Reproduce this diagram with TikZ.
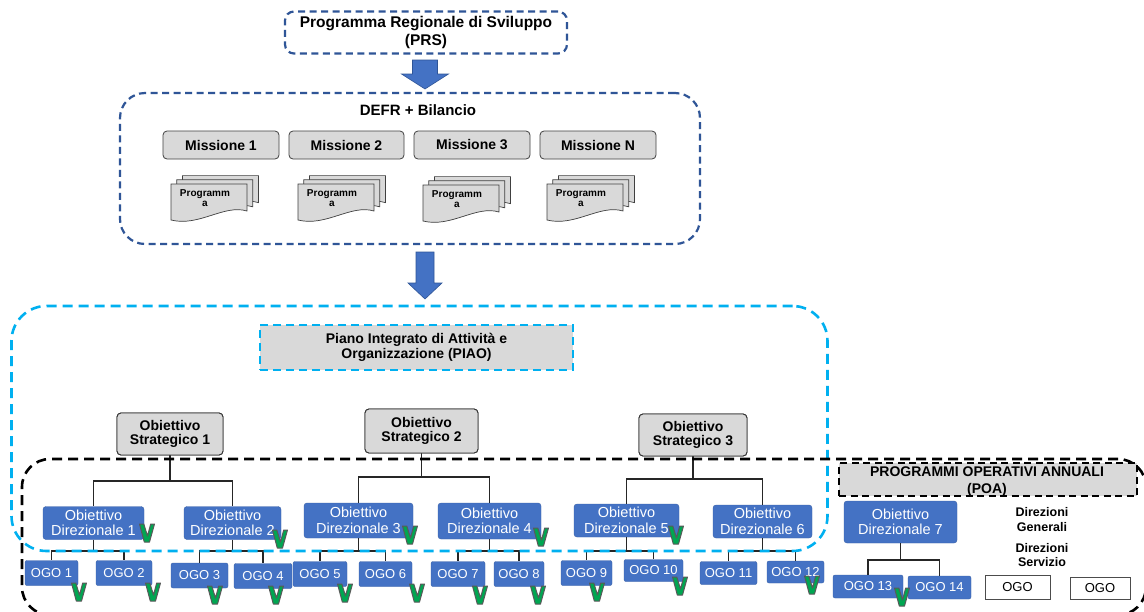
\documentclass[tikz,border=0pt]{standalone}
\usepackage{fontspec}
\setmainfont{Liberation Sans}
\usetikzlibrary{calc}
\definecolor{dblue}{HTML}{2F5597}
\definecolor{cyanb}{HTML}{00B0F0}
\definecolor{boxblue}{HTML}{4472C4}
\definecolor{lgray}{HTML}{D9D9D9}
\definecolor{vgreen}{HTML}{00A651}
\newcommand\blockarr[5]{\filldraw[fill=boxblue, draw=dblue, line width=0.6pt]
  ($(#1)+(-#3,0)$) -- ($(#1)+(#3,0)$) -- ($(#2)+(#3,-#5)$) -- ($(#2)+(#4,-#5)$) --
  (#2) -- ($(#2)+(-#4,-#5)$) -- ($(#2)+(-#3,-#5)$) -- cycle;}
\tikzset{
 prsbox/.style={draw=dblue, line width=2.2pt, dash pattern=on 7pt off 4.5pt, rounded corners=9pt,
   minimum width=282pt, minimum height=42pt, align=center, inner sep=0pt,
   font=\fontsize{15.5}{18}\selectfont\bfseries},
 defrframe/.style={draw=dblue, line width=2.2pt, dash pattern=on 7pt off 4.5pt, rounded corners=25pt, inner sep=0pt},
 titletxt/.style={font=\fontsize{15}{18}\selectfont\bfseries, inner sep=0pt},
 missbox/.style={draw=black!75, fill=lgray, rounded corners=4pt, line width=0.8pt,
   minimum width=116pt, minimum height=28pt, inner sep=0pt, font=\fontsize{14}{16}\selectfont\bfseries},
 docstack/.pic={
   \foreach \dx/\dy in {11.4/-8.4, 5.7/-4.2, 0/0}{
     \filldraw[fill=lgray, draw=black!75, line width=0.7pt, shift={(\dx,\dy)}]
       (-38,-18) -- (38,-18) -- (38,9) .. controls (15,2) and (-10,25) .. (-38,18) -- cycle;}
   \node[font=\fontsize{10}{10.5}\selectfont\bfseries, align=center, inner sep=0pt] (-t) at (-4,-4) {Programm\\a};
 },
 piaoframe/.style={draw=cyanb, line width=2.6pt, dash pattern=on 10pt off 6pt, rounded corners=35pt, inner sep=0pt},
 piaobox/.style={draw=cyanb, fill=lgray, line width=2.2pt, dash pattern=on 8pt off 5pt,
   minimum width=313pt, minimum height=45pt, align=center, inner sep=0pt,
   font=\fontsize{14}{15.5}\selectfont\bfseries},
 osbox/.style={draw=black!80, fill=lgray, rounded corners=4pt, line width=0.9pt, align=center,
   inner sep=0pt, font=\fontsize{14}{14.5}\selectfont\bfseries},
 poaframe/.style={draw=black, line width=2.6pt, dash pattern=on 10pt off 6pt, rounded corners=28pt, inner sep=0pt},
 poabox/.style={draw=black, fill=lgray, line width=1.6pt, dash pattern=on 7pt off 4.5pt,
   minimum width=298pt, minimum height=33pt, inner sep=0pt},
 poatxt/.style={font=\fontsize{14}{17}\selectfont\bfseries, align=center, inner sep=0pt},
 odbox/.style={fill=boxblue, draw=boxblue!85!black, line width=0.4pt, rounded corners=3pt, text=white,
   align=center, inner sep=0pt, font=\fontsize{14.5}{15.5}\selectfont},
 ogobox/.style={fill=boxblue, draw=boxblue!85!black, line width=0.4pt, rounded corners=2pt, text=white,
   inner sep=0pt, font=\fontsize{13}{14}\selectfont},
 wbox/.style={draw=black!70, fill=white, line width=0.8pt, inner sep=0pt, font=\fontsize{13}{14}\selectfont},
 link/.style={draw=black!85, line width=1.2pt},
 vmark/.pic={\filldraw[fill=vgreen, draw=black!65, line width=1pt, line join=round]
   (-7.5,-9) -- (-3.2,-9) -- (0.5,3) -- (3.7,-9) -- (7.5,-9) -- (2.5,9) -- (-2.7,9) -- cycle;},
 dirtxt/.style={font=\fontsize{12.5}{14.5}\selectfont\bfseries, align=center, inner sep=0pt}
}
\begin{document}
\begin{tikzpicture}[x=1pt,y=-1pt]
\useasboundingbox (0,0) rectangle (1144,611);
\clip (0,0) rectangle (1144,611);
\fill[white] (0,0) rectangle (1144,611);

% --- top part
\node[prsbox] (prs) at (426,32.5) {Programma Regionale di Sviluppo\\(PRS)};
\coordinate (a1s) at (425,60);
\coordinate (a1e) at (425,89);
\blockarr{a1s}{a1e}{12.5}{23.5}{15}

\node[defrframe, minimum width=580pt, minimum height=151pt] (defr) at (410,168.5) {};
\node[titletxt] (defrt) at (418,110) {DEFR + Bilancio};
\node[missbox] (m1) at (221,145) {Missione 1};
\node[missbox, minimum width=115pt] (m2) at (346.5,145) {Missione 2};
\node[missbox] (m3) at (472,145) {Missione 3};
\node[missbox] (mN) at (598,145) {Missione N};
\pic (d1) at (209,202) {docstack};
\pic (d2) at (336,202) {docstack};
\pic (d3) at (461,203) {docstack};
\pic (d4) at (585,202) {docstack};

\coordinate (a2s) at (425,252);
\coordinate (a2e) at (425,299);
\blockarr{a2s}{a2e}{9}{17}{16}

% --- tree nodes
\node[osbox, minimum width=106pt, minimum height=42pt] (os1) at (170,434) {Obiettivo\\Strategico 1};
\node[osbox, minimum width=113pt, minimum height=44pt] (os2) at (421.5,431) {Obiettivo\\Strategico 2};
\node[osbox, minimum width=108pt, minimum height=42pt] (os3) at (693,435) {Obiettivo\\Strategico 3};

\node[odbox, minimum width=101pt, minimum height=33pt] (od1) at (93.5,523) {Obiettivo\\Direzionale 1};
\node[odbox, minimum width=97pt, minimum height=33pt] (od2) at (232.5,523) {Obiettivo\\Direzionale 2};
\node[odbox, minimum width=109pt, minimum height=35pt] (od3) at (358.5,520.5) {Obiettivo\\Direzionale 3};
\node[odbox, minimum width=103pt, minimum height=36pt] (od4) at (489.5,521) {Obiettivo\\Direzionale 4};
\node[odbox, minimum width=105pt, minimum height=33pt] (od5) at (626.5,520.5) {Obiettivo\\Direzionale 5};
\node[odbox, minimum width=99pt, minimum height=33pt] (od6) at (762.5,521.5) {Obiettivo\\Direzionale 6};
\node[odbox, minimum width=113pt, minimum height=42pt] (od7) at (900.5,522) {Obiettivo\\Direzionale 7};

\node[ogobox, minimum width=53pt, minimum height=25pt] (g1) at (51.5,573) {OGO 1};
\node[ogobox, minimum width=56pt, minimum height=25pt] (g2) at (124,573) {OGO 2};
\node[ogobox, minimum width=57pt, minimum height=25pt] (g3) at (199.5,575.5) {OGO 3};
\node[ogobox, minimum width=58pt, minimum height=25pt] (g4) at (263,576) {OGO 4};
\node[ogobox, minimum width=54pt, minimum height=25pt] (g5) at (320,574) {OGO 5};
\node[ogobox, minimum width=53pt, minimum height=25pt] (g6) at (385.5,574) {OGO 6};
\node[ogobox, minimum width=54pt, minimum height=25pt] (g7) at (458,574) {OGO 7};
\node[ogobox, minimum width=50pt, minimum height=25pt] (g8) at (519,574) {OGO 8};
\node[ogobox, minimum width=51pt, minimum height=25pt] (g9) at (586.5,573) {OGO 9};
\node[ogobox, minimum width=59pt, minimum height=22pt] (g10) at (653.5,570.5) {OGO 10};
\node[ogobox, minimum width=57pt, minimum height=23pt] (g11) at (728.5,573) {OGO 11};
\node[ogobox, minimum width=57pt, minimum height=22pt] (g12) at (795.5,572) {OGO 12};
\node[ogobox, minimum width=70pt, minimum height=23pt] (g13) at (868,586.5) {OGO 13};
\node[ogobox, minimum width=63pt, minimum height=23pt] (g14) at (939.5,587.5) {OGO 14};
\node[wbox, minimum width=65pt, minimum height=24pt] (w1) at (1017.5,587) {OGO};
\node[wbox, minimum width=60pt, minimum height=22pt] (w2) at (1100,588) {OGO};

% --- tree connectors
\coordinate (j1) at (170,481);
\coordinate (j2) at (421.5,477);
\coordinate (j3) at (693,479);
\draw[link] (os1.south) -- (j1) -| (od1.north); \draw[link] (j1) -| (od2.north);
\draw[link] (os2.south) -- (j2) -| (od3.north); \draw[link] (j2) -| (od4.north);
\draw[link] (os3.south) -- (j3) -| (od5.north); \draw[link] (j3) -| (od6.north);

\coordinate (k1) at (93.5,551);
\coordinate (k2) at (232.5,551);
\coordinate (k3) at (358.5,551);
\coordinate (k4) at (489.5,551);
\coordinate (k5) at (626.5,551);
\coordinate (k6) at (762.5,551);
\coordinate (k7) at (900.5,560);
\draw[link] (od1.south) -- (k1) -| (g1.north); \draw[link] (k1) -| (g2.north);
\draw[link] (od2.south) -- (k2) -| (g3.north); \draw[link] (k2) -| (g4.north);
\draw[link] (od3.south) -- (k3) -| (g5.north); \draw[link] (k3) -| (g6.north);
\draw[link] (od4.south) -- (k4) -| (g7.north); \draw[link] (k4) -| (g8.north);
\draw[link] (od5.south) -- (k5) -| (g9.north); \draw[link] (k5) -| (g10.north);
\draw[link] (od6.south) -- (k6) -| (g11.north); \draw[link] (k6) -| (g12.north);
\draw[link] (od7.south) -- (k7) -| (g13.north); \draw[link] (k7) -| (g14.north);

% --- frames
\node[piaoframe, minimum width=816pt, minimum height=245pt] (piaof) at (419.5,428.5) {};
\node[poaframe, minimum width=1124pt, minimum height=156pt] (poaf) at (584,537) {};
\node[piaobox] (piao) at (416.5,347.5) {Piano Integrato di Attività e\\Organizzazione (PIAO)};
\node[poabox] (poa) at (988,479.5) {};
\node[poatxt] (poat) at (987,481.5) {PROGRAMMI OPERATIVI ANNUALI\\(POA)};

% boxes shown above the frame lines
\node[osbox, minimum width=106pt, minimum height=42pt] at (os1) {Obiettivo\\Strategico 1};
\node[osbox, minimum width=113pt, minimum height=44pt] at (os2) {Obiettivo\\Strategico 2};
\node[osbox, minimum width=108pt, minimum height=42pt] at (os3) {Obiettivo\\Strategico 3};

\node[dirtxt] (dg) at (1042,519.5) {Direzioni\\Generali};
\node[dirtxt] (ds) at (1042,555) {Direzioni\\Servizio};

% --- check marks
\foreach \p in {(147,533),(280,539),(410,535),(541,537),(676,535),
  (79,592),(153,592),(215,595),(276,595),(345,593),(417,593),(480,595),(538,595),
  (597,592),(680,586),(812,585),(902,597)}
  \pic at \p {vmark};
\end{tikzpicture}
\end{document}
